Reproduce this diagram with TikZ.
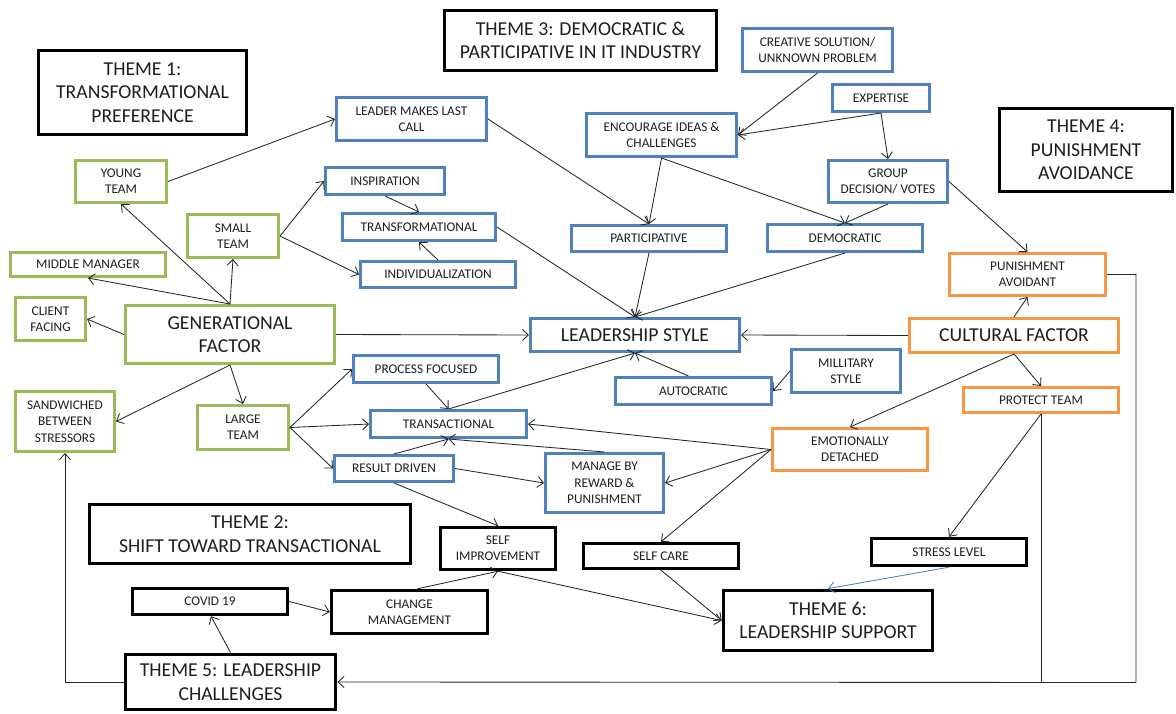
\documentclass[tikz,border=0pt]{standalone}
\usepackage{fontspec}
\setmainfont{Carlito}
\usetikzlibrary{arrows.meta}
\definecolor{lgreen}{HTML}{9BBB59}
\definecolor{lblue}{HTML}{4F81BD}
\definecolor{lorange}{HTML}{F79646}
\definecolor{ink}{HTML}{1E1E1E}
\definecolor{wire}{HTML}{262626}

% box given by its outer corners (x1,y1) (x2,y2) in pixel-like units
\newcommand\placebox[7]{%
  \pgfmathsetmacro\cx{(#3+#5)/2}\pgfmathsetmacro\cy{(#4+#6)/2}%
  \pgfmathsetmacro\bw{#5-#3-2.6}\pgfmathsetmacro\bh{#6-#4-2.6}%
  \node[#1, minimum width=\bw pt, minimum height=\bh pt] (#2) at (\cx,\cy) {#7};}

\begin{document}
\begin{tikzpicture}[x=1pt,y=-1pt,
  box/.style={draw, rectangle, line width=2.6pt, inner sep=0pt, align=center,
    text=ink, fill=white, font=\fontsize{13.3}{16.3}\selectfont},
  gbox/.style={box, draw=lgreen},
  bbox/.style={box, draw=lblue},
  obox/.style={box, draw=lorange},
  kbox/.style={box, draw=black, line width=3pt},
  big/.style={font=\fontsize{19.7}{23.4}\selectfont},
  theme/.style={box, big, draw=black, line width=3.4pt},
  link/.style={draw=wire, line width=0.85pt, -{Straight Barb[length=6pt,width=11pt]}},
  rail/.style={draw=wire, line width=0.85pt},
]
\fill[white] (0,0) rectangle (1176,713);
\useasboundingbox (0,0) rectangle (1176,713);

% theme headings
\placebox{theme}{t1}{37}{49}{248}{136}{THEME 1:\\TRANSFORMATIONAL\\PREFERENCE}
\placebox{theme}{t3}{443}{9}{718}{72}{THEME 3: DEMOCRATIC \&\\PARTICIPATIVE IN IT INDUSTRY}
\placebox{theme}{t4}{998}{107}{1174}{193}{THEME 4:\\PUNISHMENT\\AVOIDANCE}
\placebox{theme}{t2}{88}{503}{412}{565}{THEME 2:\\SHIFT TOWARD TRANSACTIONAL}
\placebox{theme}{t5}{124}{653}{337}{711}{THEME 5: LEADERSHIP\\CHALLENGES}
\placebox{theme}{t6}{722}{589}{934}{652}{THEME 6:\\LEADERSHIP SUPPORT}

% generational factor group
\placebox{gbox}{young}{74}{159}{168}{204}{YOUNG\\TEAM}
\placebox{gbox}{small}{186}{213}{280}{259}{SMALL\\TEAM}
\placebox{gbox}{middle}{9}{251}{167}{278}{MIDDLE MANAGER}
\placebox{gbox}{client}{14}{296}{87}{342}{CLIENT\\FACING}
\placebox{gbox,big}{gen}{124}{304}{336}{365}{GENERATIONAL\\FACTOR}
\placebox{gbox}{sandwich}{14}{390}{116}{453}{SANDWICHED\\BETWEEN\\STRESSORS}
\placebox{gbox}{large}{196}{404}{290}{451}{LARGE\\TEAM}

% leadership styles
\placebox{bbox}{leader}{335}{96}{488}{142}{LEADER MAKES LAST\\CALL}
\placebox{bbox}{insp}{324}{166}{446}{196}{INSPIRATION}
\placebox{bbox}{transf}{341}{212}{497}{242}{TRANSFORMATIONAL}
\placebox{bbox}{indiv}{359}{260}{517}{289}{INDIVIDUALIZATION}
\placebox{bbox}{enc}{585}{112}{738}{158}{ENCOURAGE IDEAS \&\\CHALLENGES}
\placebox{bbox}{part}{570}{224}{728}{253}{PARTICIPATIVE}
\placebox{bbox}{creative}{741}{27}{894}{73}{CREATIVE SOLUTION/\\UNKNOWN PROBLEM}
\placebox{bbox}{expert}{831}{83}{931}{113}{EXPERTISE}
\placebox{bbox}{group}{827}{159}{949}{204}{GROUP\\DECISION/ VOTES}
\placebox{bbox}{demo}{766}{223}{924}{253}{DEMOCRATIC}
\placebox{bbox,big}{style}{529}{317}{741}{353}{LEADERSHIP STYLE}
\placebox{bbox}{proc}{352}{354}{500}{384}{PROCESS FOCUSED}
\placebox{bbox}{trans}{369}{409}{528}{439}{TRANSACTIONAL}
\placebox{bbox}{result}{333}{454}{455}{483}{RESULT DRIVEN}
\placebox{bbox}{manage}{544}{452}{665}{514}{MANAGE BY\\REWARD \&\\PUNISHMENT}
\placebox{bbox}{auto}{614}{376}{773}{406}{AUTOCRATIC}
\placebox{bbox}{mil}{790}{348}{902}{394}{MILLITARY\\STYLE}

% cultural factor group
\placebox{obox}{pa}{948}{252}{1107}{297}{PUNISHMENT\\AVOIDANT}
\placebox{obox,big}{cult}{908}{317}{1120}{354}{CULTURAL FACTOR}
\placebox{obox}{protect}{962}{386}{1120}{414}{PROTECT TEAM}
\placebox{obox}{emo}{771}{427}{929}{472}{EMOTIONALLY\\DETACHED}

% support and challenges
\placebox{kbox}{selfimp}{439}{526}{557}{571}{SELF\\IMPROVEMENT}
\placebox{kbox}{selfcare}{582}{542}{740}{570}{SELF CARE}
\placebox{kbox}{stress}{870}{537}{1028}{567}{STRESS LEVEL}
\placebox{kbox}{covid}{131}{587}{289}{616}{COVID 19}
\placebox{kbox}{change}{330}{589}{489}{635}{CHANGE\\MANAGEMENT}

\coordinate (railcorner) at (1136,682.5);

% generational factor links
\draw[link] (gen.north) -- (young.south);
\draw[link] (gen.north) -- (middle.south);
\draw[link] (gen.north) -- (small.south);
\draw[link] (gen.west) -- (client.east);
\draw[link] (gen.south) -- (sandwich.east);
\draw[link] (gen.south) -- (large.north);
\draw[link] (gen.east) -- (style.west);
\draw[link] (young.east) -- (leader.west);
\draw[link] (small.east) -- (insp.west);
\draw[link] (small.east) -- (indiv.west);
\draw[link] (insp.south) -- (transf.north);
\draw[link] (indiv.north) -- (transf.south);
\draw[link] (transf.east) -- (style.north);

% democratic / participative links
\draw[link] (leader.east) -- (part.north);
\draw[link] (enc.south) -- (part.north);
\draw[link] (enc.south) -- (demo.north);
\draw[link] (creative.south) -- (enc.east);
\draw[link] (expert.south) -- (enc.east);
\draw[link] (expert.south) -- (group.north);
\draw[link] (group.south) -- (demo.north);
\draw[link] (group.east) -- (pa.north);
\draw[link] (part.south) -- (style.north);
\draw[link] (demo.south) -- (style.north);

% cultural factor links
\draw[link] (cult.west) -- (style.east);
\draw[link] (cult.north) -- (pa.south);
\draw[link] (cult.south) -- (protect.north);
\draw[link] (cult.south) -- (emo.north);
\draw[link] (mil.west) -- (auto.east);
\draw[link] ([xshift=-5pt]auto.north) -- (style.south);

% transactional links
\draw[link] (large.east) -- (proc.west);
\draw[link] (large.east) -- (trans.west);
\draw[link] (large.east) -- (result.west);
\draw[link] (proc.south) -- (trans.north);
\draw[link] (trans.north) -- (style.south);
\draw[link] (result.north) -- (trans.south);
\draw[link] (manage.north) -- (trans.south);
\draw[link] (result.east) -- (manage.west);
\draw[link] (emo.west) -- (trans.east);
\draw[link] (emo.west) -- (manage.east);
\draw[link] (emo.west) -- (selfcare.north);

% support links
\draw[link] (result.south) -- (selfimp.north);
\draw[link] ([xshift=8pt]change.north) -- (selfimp.south);
\draw[link] (selfimp.south) -- (t6.west);
\draw[link] (selfcare.south) -- (t6.west);
\draw[link, draw=lblue] (stress.south) -- (t6.north);
\draw[link] (protect.south) -- (stress.north);

% challenges links
\draw[link] (covid.east) -- (change.west);
\draw[link] (t5.north) -- ([xshift=1pt]covid.south);
\draw[link] (t5.west) -| (sandwich.south);
\draw[link] (pa.east) -| (railcorner) -- (t5.east);
\draw[rail] (protect.south) -- (protect.south |- t5.east);
\end{tikzpicture}
\end{document}
